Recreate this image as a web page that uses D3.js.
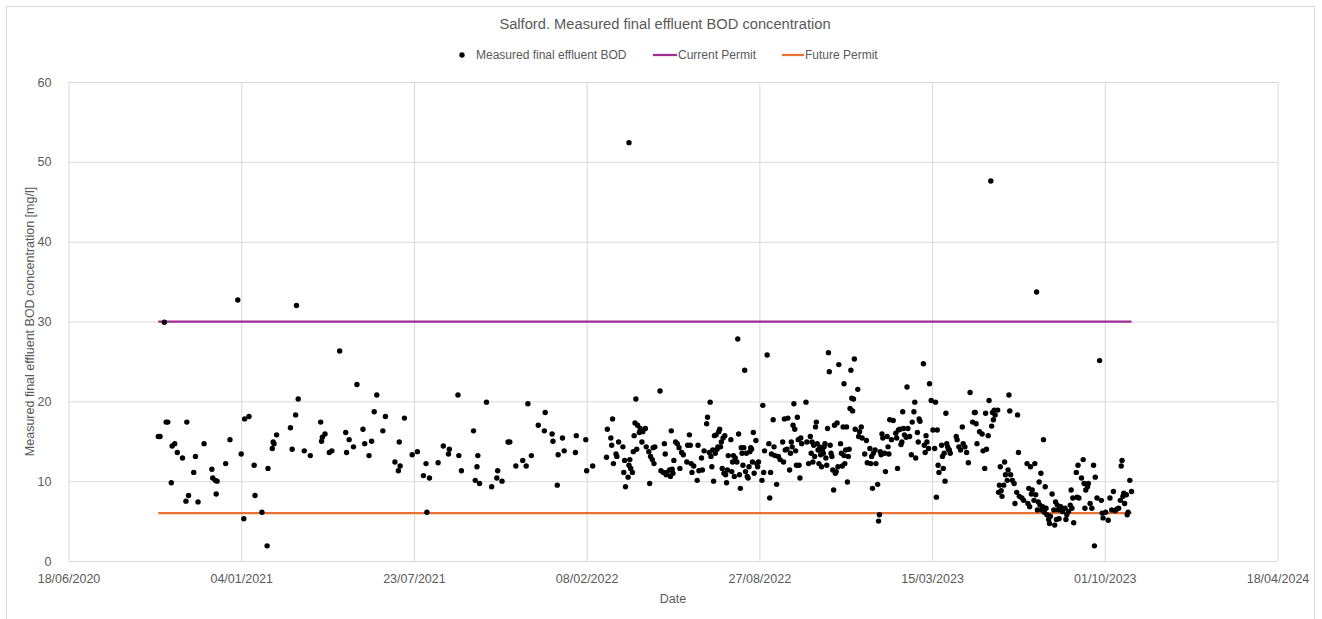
<!DOCTYPE html>
<html>
<head>
<meta charset="utf-8">
<script src="https://cdn.jsdelivr.net/npm/d3@7"></script>
<style>
  body { margin: 0; background: #fff; }
  svg { display: block; font-family: "Liberation Sans", Arial, sans-serif; }
</style>
</head>
<body>
<div id="chart"></div>
<script>
// sample dates, as days after 18/06/2020
const sampleDays = [
  104,106,111,113,115,119,120,123,126,132, 136,137,139,145,147,150,157,166,167,170,
  171,172,182,187,196,200,203,204,209,215, 216,224,230,231,236,237,238,241,257,259,
  263,264,266,273,280,
  292,293,294,297,302,305,314,321,322,325, 330,334,341,343,348,351,354,357,364,367,
  378,382,383,384,389,398,404,411,414,415, 418,428,434,440,441,451,452,455,469,471,
  473,474,476,
  484,490,496,497,502,509,511,518,526,530, 532,536,544,551,552,560,561,566,567,572,
  574,587,588,599,600,607,623,624,628,629, 630,631,634,635,637,642,643,644,645,648,
  649,649,650,651,653,654,655,656,657,658, 659,661,662,664,665,
  668,669,672,673,674,676,677,678,679,685, 686,689,690,691,692,693,696,697,698,699,
  700,701,703,705,707,708,710,712,716,717, 719,720,721,722,724,728,729,730,733,734,
  736,739,740,742,743,744,745,746,747,748, 749,750,751,752,753,754,755,756,757,758,
  759,760,761,762,763,764,767,768,769,770, 771,772,774,775,776,777,778,779,780,781,
  782,783,784,785,786,787,788,789,790,791, 792,793,794,796,797,798,799,803,804,805,
  806,809,811,812,813,814,816,817,818,820, 822,824,827,828,829,830,832,833,835,836,
  837,838,839,840,841,842,843,844,845,846, 847,848,849,854,855,857,
  859,860,861,862,863,864,865,866,867,868, 869,870,871,872,873,874,875,876,877,878,
  879,880,881,882,883,884,885,886,887,888, 889,890,891,892,894,895,896,897,898,898,
  899,900,901,902,903,904,905,906,907,908, 909,910,911,914,915,916,918,919,922,924,
  925,928,929,930,931,932,934,935,937,938, 939,940,941,942,943,945,946,948,949,950,
  951,953,955,958,959,960,961,963,964,965, 966,967,968,970,971,972,974,976,977,979,
  980,981,983,984,985,986,990,991,992,993, 994,996,997,999,1001,1003,1004,1005,1006,1007,
  1008,1011,1012,1013,1014,1015,1016,1017,1018,1019, 1020,1021,1028,1029,1031,1033,1035,1036,1038,1040,
  1042,1044,1047,1049,
  1050,1051,1052,1055,1058,1059,1061,1062,1063,1065, 1066,1068,1069,1070,1071,1072,1073,1076,1077,1078,
  1079,1080,1081,1083,1084,1085,1087,1088,1089,1090, 1091,1093,1095,1096,1098,1099,1100,1101,1104,1106,
  1110,1111,1112,1113,1114,1115,1116,1118,1119,1120, 1121,1122,1123,1124,1125,1126,1127,1128,1129,1130,
  1131,1132,1133,1135,1136,1137,1139,1141,1142,1143, 1144,1145,1146,1147,1149,1151,1154,1155,1156,1158,
  1160,1161,1162,1163,1164,1167,1168,1169,1170,1173, 1175,1176,1177,1178,1180,1181,1183,1185,1187,1188,
  1189,1191,1194,1196,1197,1198,1201,1204,1206,1208, 1210,1212,1214,1216,1218,1219,1220,1221,1222,1223,
  1225,1226,1227,1229,1231
];

// measured final effluent BOD, mg/l
const bodValues = [
  15.6,15.6,29.9,17.4,17.4,9.8,14.4,14.7,13.6,12.9, 7.5,17.4,8.2,11.1,13.1,7.4,14.7,11.5,10.4,10.1,
  8.4,10.0,12.2,15.2,32.7,13.4,5.3,17.8,18.1,12.0, 8.2,6.1,1.9,11.6,14.1,14.9,14.7,15.8,16.7,14.0,
  18.3,32.0,20.3,13.8,13.2,
  17.4,15.0,15.5,15.9,13.6,13.8,26.3,16.1,13.6,15.2, 14.3,22.1,16.5,14.7,13.2,15.0,18.7,20.8,16.3,18.1,
  12.4,11.3,14.9,11.9,17.9,13.3,13.7,10.7,12.2,6.1, 10.4,12.3,14.4,13.4,14.0,20.8,13.2,11.3,16.3,10.1,
  11.8,13.2,9.7,
  19.9,9.3,10.4,11.3,10.0,14.9,14.9,11.9,12.6,11.9, 19.7,13.2,17.0,16.3,18.6,15.9,15.0,9.5,13.3,15.4,
  13.8,13.6,15.7,15.2,11.3,11.9,13.0,16.5,15.4,14.5, 17.8,12.2,13.4,13.1,14.9,14.3,11.1,12.6,9.3,10.5,
  12.0,52.4,12.7,11.6,11.1,13.7,15.7,17.3,20.3,14.0, 17.0,16.1,16.6,14.9,16.2,
  16.6,14.3,13.7,9.7,13.1,12.7,14.2,12.2,14.3,21.3, 11.3,11.1,14.7,13.4,10.8,11.1,11.4,10.6,16.3,11.5,
  11.0,12.6,14.9,14.7,14.2,11.6,13.6,13.3,12.4,14.5, 15.8,14.5,12.2,11.1,11.9,10.1,14.5,11.3,12.9,11.4,
  13.8,17.2,18.0,13.6,19.9,13.1,11.8,13.9,10.0,15.7, 13.5,15.8,14.0,14.3,16.2,16.5,14.3,14.9,11.6,15.4,
  11.0,15.7,10.8,9.8,11.4,13.2,15.2,11.2,12.4,13.2, 10.6,12.9,12.4,27.8,15.9,10.8,9.1,14.2,13.5,12.0,
  14.2,23.9,11.2,13.5,10.6,10.4,11.8,13.7,14.2,14.0, 12.4,16.1,11.0,15.1,12.2,11.8,12.4,10.1,19.5,11.1,
  13.8,25.8,14.7,7.9,11.1,13.4,17.7,14.3,13.2,9.6, 13.1,12.7,14.9,12.4,17.8,13.9,14.0,17.9,11.4,13.5,
  14.9,14.3,17.0,19.7,16.5,13.8,12.0,18.0,15.2,12.0, 10.4,15.4,14.7,19.9,14.9,12.2,
  15.6,13.5,14.9,12.4,14.5,13.1,16.8,17.4,14.7,13.9, 12.2,14.3,13.3,11.8,13.9,13.5,14.3,14.7,12.9,12.0,
  16.6,26.1,23.7,14.5,13.5,13.1,11.4,8.9,17.0,11.0, 11.2,17.3,11.8,24.6,14.7,13.5,11.9,16.8,13.2,22.2,
  12.2,13.9,16.8,9.9,13.1,14.0,19.1,23.9,20.4,18.8, 20.3,25.3,16.5,21.5,15.6,16.2,16.8,15.4,13.4,15.1,
  12.3,14.1,12.2,13.1,9.1,13.5,13.9,12.2,9.6,5.0, 5.8,13.7,13.3,15.9,15.4,13.5,11.2,15.6,14.3,13.4,
  17.7,15.2,17.6,16.0,15.4,11.6,16.4,16.5,14.6,14.9, 18.7,16.6,15.8,15.5,21.8,16.6,15.6,13.3,17.4,18.7,
  19.9,12.9,16.1,14.9,17.8,17.5,24.7,14.5,13.6,15.7, 14.9,14.1,22.2,20.1,16.4,14.1,19.9,8.0,16.4,12.0,
  11.1,14.5,13.1,11.6,13.5,10.0,18.5,14.7,14.3,14.0, 13.9,13.5,15.6,15.2,14.3,13.9,16.8,14.7,14.3,13.6,
  12.3,21.1,17.4,18.6,
  18.6,17.2,14.7,16.2,15.9,13.8,11.6,18.5,14.0,15.7, 20.1,47.6,16.9,18.6,17.7,18.9,18.3,18.9,8.6,9.5,
  11.8,8.8,8.1,9.5,12.4,10.8,10.1,11.4,20.8,18.8, 10.8,10.1,9.7,7.2,8.6,18.3,13.6,8.1,7.9,7.6,
  12.2,7.2,9.1,6.8,11.8,8.4,8.9,7.6,12.2,8.3, 33.7,6.4,7.4,9.9,7.0,11.0,6.4,6.8,15.2,6.1,
  9.3,6.6,5.8,5.2,4.7,5.6,8.4,6.4,4.5,7.4, 5.2,7.0,6.4,5.3,6.8,6.2,6.6,5.2,5.8,6.2,
  7.0,8.9,6.6,7.9,4.8,11.1,8.0,12.0,7.9,10.4, 12.7,9.7,6.6,8.9,9.3,9.7,7.2,6.6,12.0,1.9,
  10.5,7.9,25.1,7.6,6.0,5.4,6.1,5.1,7.9,6.4, 8.7,6.3,6.5,6.6,7.6,11.9,12.6,8.1,8.5,7.2,
  8.3,5.8,6.1,10.1,8.7
];

const currentPermit = 30;
const futurePermit = 6;

const xTickLabels = ["18/06/2020", "04/01/2021", "23/07/2021", "08/02/2022",
                     "27/08/2022", "15/03/2023", "01/10/2023", "18/04/2024"];
const yTicks = [0, 10, 20, 30, 40, 50, 60];

const width = 1322;
const height = 619;
const margin = { top: 82, right: 44.5, bottom: 58, left: 68.5 };

const textColor = "#595959";
const gridColor = "#d9d9d9";
const purple = "#a02b93";
const orange = "#e97132";

const parseDate = d3.timeParse("%d/%m/%Y");
const seriesStart = parseDate(xTickLabels[0]);
const tickDates = xTickLabels.map(parseDate);

const points = sampleDays.map((d, i) => ({
  date: d3.timeDay.offset(seriesStart, d),
  value: bodValues[i]
}));
const dateRange = d3.extent(points, d => d.date);

const svg = d3.select("#chart")
  .append("svg")
  .attr("width", width)
  .attr("height", height);

// chart frame (bottom edge lies outside the window)
svg.append("rect")
  .attr("x", 6.5).attr("y", 6.5)
  .attr("width", width - 7.5 - 6.5).attr("height", height + 10)
  .attr("fill", "#fff")
  .attr("stroke", gridColor);

const x = d3.scaleTime()
  .domain([tickDates[0], tickDates[tickDates.length - 1]])
  .range([margin.left, width - margin.right]);

const y = d3.scaleLinear()
  .domain([0, 60])
  .range([height - margin.bottom, margin.top]);

// gridlines
svg.append("g")
  .attr("transform", "translate(" + margin.left + ",0)")
  .call(d3.axisLeft(y).tickValues(yTicks).tickSize(-(x.range()[1] - x.range()[0])).tickFormat(""))
  .call(g => g.select(".domain").remove())
  .call(g => g.selectAll("line").attr("stroke", gridColor));

svg.append("g")
  .attr("transform", "translate(0," + (height - margin.bottom) + ")")
  .call(d3.axisBottom(x).tickValues(tickDates).tickSize(-(y.range()[0] - y.range()[1])).tickFormat(""))
  .call(g => g.select(".domain").remove())
  .call(g => g.selectAll("line").attr("stroke", gridColor));

// tick labels
svg.append("g")
  .attr("transform", "translate(" + margin.left + ",0)")
  .call(d3.axisLeft(y).tickValues(yTicks).tickSize(0).tickPadding(17))
  .call(g => g.select(".domain").remove())
  .call(g => g.selectAll("text")
    .attr("fill", textColor)
    .style("font-size", "12.5px")
    .style("font-family", "'Liberation Sans', Arial, sans-serif"));

svg.append("g")
  .attr("transform", "translate(0," + (height - margin.bottom) + ")")
  .call(d3.axisBottom(x).tickValues(tickDates).tickSize(0).tickPadding(13)
    .tickFormat(d3.timeFormat("%d/%m/%Y")))
  .call(g => g.select(".domain").remove())
  .call(g => g.selectAll("text")
    .attr("fill", textColor)
    .style("font-size", "12.5px")
    .style("font-family", "'Liberation Sans', Arial, sans-serif"));

// permit lines
const line = d3.line()
  .x(d => x(d.date))
  .y(d => y(d.value));

svg.append("path")
  .datum(dateRange.map(d => ({ date: d, value: currentPermit })))
  .attr("d", line)
  .attr("fill", "none")
  .attr("stroke", purple)
  .attr("stroke-width", 2.25);

svg.append("path")
  .datum(dateRange.map(d => ({ date: d, value: futurePermit })))
  .attr("d", line)
  .attr("fill", "none")
  .attr("stroke", orange)
  .attr("stroke-width", 2.25);

// measured points
svg.append("g")
  .selectAll("circle")
  .data(points)
  .join("circle")
  .attr("cx", d => x(d.date))
  .attr("cy", d => y(d.value))
  .attr("r", 2.7)
  .attr("fill", "#000");

// titles
svg.append("text")
  .attr("x", 665)
  .attr("y", 29)
  .attr("text-anchor", "middle")
  .attr("fill", textColor)
  .style("font-size", "14.7px")
  .text("Salford. Measured final effluent BOD concentration");

svg.append("text")
  .attr("x", (x.range()[0] + x.range()[1]) / 2)
  .attr("y", 603)
  .attr("text-anchor", "middle")
  .attr("fill", textColor)
  .style("font-size", "12.5px")
  .text("Date");

svg.append("text")
  .attr("transform", "translate(34," + ((y.range()[0] + y.range()[1]) / 2) + ") rotate(-90)")
  .attr("text-anchor", "middle")
  .attr("fill", textColor)
  .style("font-size", "12.5px")
  .text("Measured final effluent BOD concentration [mg/l]");

// legend
const legend = svg.append("g").attr("transform", "translate(0,55)");
legend.append("circle").attr("cx", 462).attr("cy", 0).attr("r", 2.7).attr("fill", "#000");
legend.append("text").attr("x", 476).attr("y", 4.3).attr("fill", textColor)
  .style("font-size", "12px").text("Measured final effluent BOD");
legend.append("line").attr("x1", 653).attr("x2", 677).attr("y1", 0).attr("y2", 0)
  .attr("stroke", purple).attr("stroke-width", 2.25);
legend.append("text").attr("x", 678).attr("y", 4.3).attr("fill", textColor)
  .style("font-size", "12px").text("Current Permit");
legend.append("line").attr("x1", 782).attr("x2", 804).attr("y1", 0).attr("y2", 0)
  .attr("stroke", orange).attr("stroke-width", 2.25);
legend.append("text").attr("x", 805).attr("y", 4.3).attr("fill", textColor)
  .style("font-size", "12px").text("Future Permit");
</script>
</body>
</html>
